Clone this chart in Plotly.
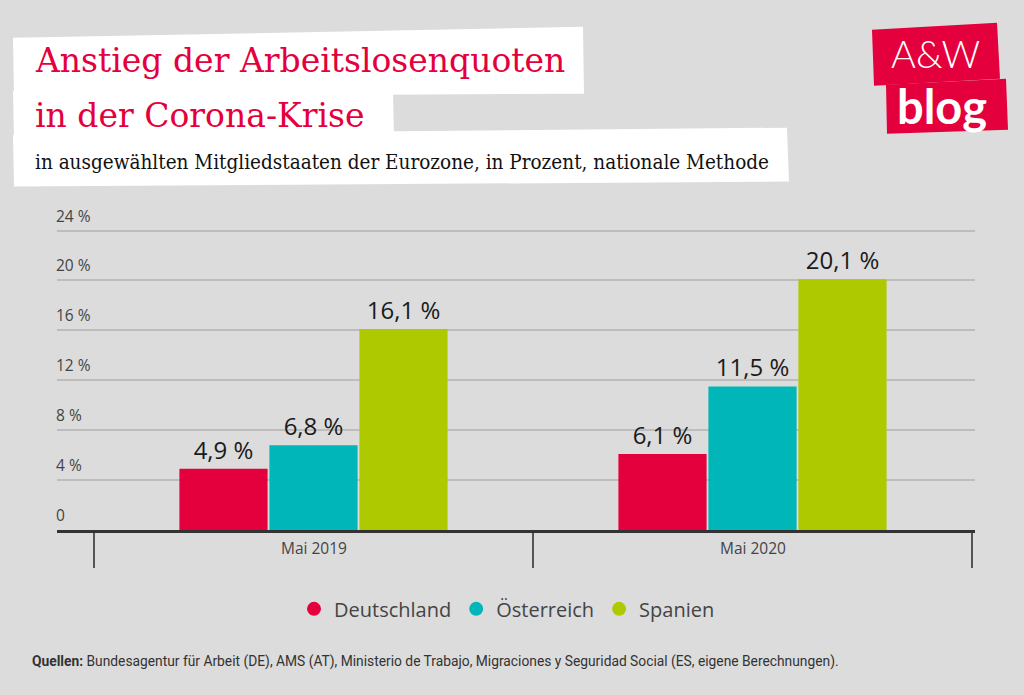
import plotly.graph_objects as go

# ---------------- data ----------------
categories = ["Mai 2019", "Mai 2020"]
countries = ["Deutschland", "Österreich", "Spanien"]
values_de = [4.9, 6.1]
values_at = [6.8, 11.5]
values_es = [16.1, 20.1]
colors = ["#e4003c", "#00b6b9", "#afc900"]
y_tickvals = [0, 4, 8, 12, 16, 20, 24]
y_ticktext = ["0", "4 %", "8 %", "12 %", "16 %", "20 %", "24 %"]

title_line1 = "Anstieg der Arbeitslosenquoten"
title_line2 = "in der Corona-Krise"
subtitle = "in ausgewählten Mitgliedstaaten der Eurozone, in Prozent, nationale Methode"
source = ("<b>Quellen:</b> Bundesagentur für Arbeit (DE), AMS (AT), Ministerio de Trabajo, "
          "Migraciones y Seguridad Social (ES, eigene Berechnungen).")

# ---------------- geometry helpers ----------------
W, H = 1024, 695
L, R, T, B = 57, 975, 227.5, 530


def px(x):
    return (x - L) / (R - L)


def py(y):
    return (B - y) / (B - T)


def poly(points):
    s = "M " + " L ".join(f"{px(x):.5f},{py(y):.5f}" for x, y in points) + " Z"
    return s


fig = go.Figure()
series = [values_de, values_at, values_es]
for name, vals, col in zip(countries, series, colors):
    fig.add_trace(go.Bar(
        x=categories, y=vals, name=name, marker_color=col,
        marker_line_width=0,
        texttemplate="%{y:.1f} %", textposition="outside",
        textfont=dict(family="Open Sans", size=24, color="#1a1a1a"),
        cliponaxis=False, showlegend=False,
    ))
# legend entries with round symbols
for name, col in zip(countries, colors):
    fig.add_trace(go.Scatter(
        x=[None], y=[None], mode="markers", name=name,
        marker=dict(symbol="circle", size=16, color=col, line=dict(color=col, width=4)),
        showlegend=True,
    ))

shapes = []
annotations = []

# white title boxes
for pts in [
    [(13, 37), (583, 26), (584, 93), (14, 96)],
    [(13, 90), (393, 90), (394, 138), (14, 138)],
    [(13, 134), (787, 127), (789, 181), (14, 186)],
]:
    shapes.append(dict(type="path", path=poly(pts), xref="paper", yref="paper",
                       fillcolor="white", line=dict(width=0), layer="below"))

# logo boxes
for pts in [
    [(872, 29), (997, 22), (1000, 78), (874, 85)],
    [(886, 84), (1006, 78), (1008, 129), (887, 133)],
]:
    shapes.append(dict(type="path", path=poly(pts), xref="paper", yref="paper",
                       fillcolor="#e4003c", line=dict(width=0), layer="below"))

annotations += [
    dict(text=title_line1, x=px(33), y=py(60), xref="paper", yref="paper",
         xanchor="left", yanchor="middle", showarrow=False,
         font=dict(family="DejaVu Serif", size=33, color="#e4003c")),
    dict(text=title_line2, x=px(33), y=py(115), xref="paper", yref="paper",
         xanchor="left", yanchor="middle", showarrow=False,
         font=dict(family="DejaVu Serif", size=33, color="#e4003c")),
    dict(text=subtitle, x=px(33), y=py(161), xref="paper", yref="paper",
         xanchor="left", yanchor="middle", showarrow=False,
         font=dict(family="DejaVu Serif Condensed, Liberation Serif", size=20.5, color="#111111")),
    dict(text="A&W", x=px(935), y=py(52), xref="paper", yref="paper",
         xanchor="center", yanchor="middle", showarrow=False,
         font=dict(family="Lato", size=38, color="white", weight=300)),
    dict(text="<b>blog</b>", x=px(942), y=py(105), xref="paper", yref="paper",
         xanchor="center", yanchor="middle", showarrow=False,
         font=dict(family="Lato", size=47, color="white")),
    dict(text=source, x=px(30), y=py(662), xref="paper", yref="paper",
         xanchor="left", yanchor="middle", showarrow=False,
         font=dict(family="Liberation Sans Narrow, Roboto", size=13.8, color="#333333")),
]

# y tick labels above grid lines
for v, t in zip(y_tickvals, y_ticktext):
    annotations.append(dict(text=t, x=0, y=v, xref="paper", yref="y",
                            xanchor="left", yanchor="bottom", yshift=2, xshift=-3,
                            showarrow=False,
                            font=dict(family="Open Sans", size=15.5, color="#444444")))
# x category labels
for c in categories:
    annotations.append(dict(text=c, x=c, y=py(548), xref="x", yref="paper",
                            xanchor="center", yanchor="middle", showarrow=False,
                            font=dict(family="Open Sans", size=15.5, color="#444444")))

span = (R - L) / 439.0
x0 = -0.5 - (94 - L) / 439.0

fig.update_layout(
    width=W, height=H,
    margin=dict(l=L, r=W - R, t=T, b=H - B, pad=0),
    paper_bgcolor="#dcdcdc", plot_bgcolor="#dcdcdc",
    barmode="group", bargap=0.385, bargroupgap=0.02,
    separators=",.",
    shapes=shapes, annotations=annotations,
    showlegend=True,
    legend=dict(orientation="h", x=px(507), y=py(609), xanchor="center", yanchor="middle",
                font=dict(family="Open Sans", size=20, color="#444444"),
                bgcolor="rgba(0,0,0,0)", itemsizing="constant"),
    xaxis=dict(type="category", range=[x0, x0 + span], showline=True, linecolor="#333333",
               linewidth=3, ticks="outside", tickson="boundaries", ticklen=35,
               tickcolor="#555555", tickwidth=1.5, showticklabels=False, showgrid=False,
               zeroline=False, fixedrange=True),
    yaxis=dict(range=[0, 24.2], tickvals=y_tickvals, showticklabels=False, showgrid=True,
               gridcolor="#bdbdbd", gridwidth=1.5, zeroline=False, showline=False,
               fixedrange=True),
)

fig.write_html("out.html", config={"displayModeBar": False},
               post_script="document.body.style.margin='0';"
               "document.body.style.background='#dcdcdc';")
